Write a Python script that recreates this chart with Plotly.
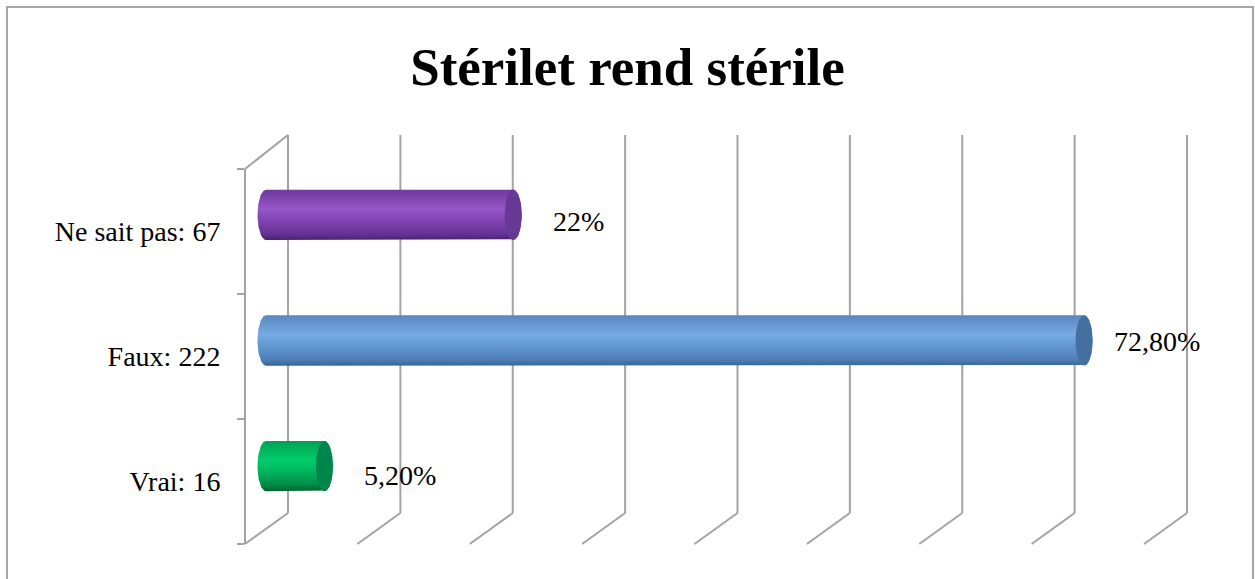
import numpy as np
import plotly.graph_objects as go

# ---------------- data ----------------
categories = ["Vrai", "Faux", "Ne sait pas"]
counts = [16, 222, 67]
shares = [0.052, 0.728, 0.22]
share_labels = ["5,20%", "72,80%", "22%"]
axis_max = 0.8
axis_step = 0.1
title_text = "Stérilet rend stérile"

# ---------------- layout geometry (pixels in a 1255x579 page) ----------------
W, H = 1255, 579
def fx(p):
    return p / W
def fy(p):
    return 1 - p / H

back_x = (288, 1187)
back_y = (135, 513)
mid_x = (266, 1165)
mid_y = (152, 529)
front_y = (169, 544)
front_x = 245
depth_dx, depth_dy_bottom, depth_dy_top = 43, 31, 34

grid_color = "#a3a3a3"
font_family = "Liberation Serif"

bar_half = 0.2  # half thickness in category units
cap_px = 8.5
mid_scale = axis_max / (mid_x[1] - mid_x[0])   # data units per pixel
cap_units = cap_px * mid_scale
pad_px = 14
pad_units = pad_px * mid_scale

body_scales = [
    [[0, "#005f30"], [0.12, "#008a46"], [0.45, "#00bd63"], [0.62, "#00cc6c"], [0.85, "#00b35c"], [1, "#00a152"]],
    [[0, "#3a6493"], [0.12, "#4f7fb8"], [0.45, "#689cd6"], [0.62, "#77aae2"], [0.85, "#6595cf"], [1, "#5886bf"]],
    [[0, "#4a2270"], [0.12, "#653292"], [0.45, "#8748b9"], [0.62, "#9557c6"], [0.85, "#7e43ae"], [1, "#6f3a9d"]],
]
cap_colors = ["#00864a", "#44709f", "#673894"]
label_xshift = [38, 28, 38]
label_yshift = [-9, -1, -7]

cat_labels = [f"{c}: {n}" for c, n in zip(categories, counts)]

fig = go.Figure()

# dummy trace so the back-wall subplot exists
fig.add_trace(go.Scatter(x=[0], y=[0], xaxis="x", yaxis="y", mode="markers",
                         marker=dict(opacity=0), hoverinfo="skip", showlegend=False))

t_half = np.linspace(-np.pi / 2, np.pi / 2, 41)
t_full = np.linspace(0, 2 * np.pi, 81)
for i, v in enumerate(shares):
    xs = ([0, v] + list(v + cap_units * np.cos(t_half)) + [v, 0]
          + list(-cap_units * np.cos(t_half[::-1])))
    ys = ([i - bar_half, i - bar_half] + list(i + bar_half * np.sin(t_half))
          + [i + bar_half, i + bar_half] + list(i + bar_half * np.sin(t_half[::-1])))
    fig.add_trace(go.Scatter(
        x=xs, y=ys, xaxis="x2", yaxis="y2", mode="lines", fill="toself",
        line=dict(width=0, color=cap_colors[i]),
        fillgradient=dict(type="vertical", colorscale=body_scales[i]),
        hoverinfo="skip", showlegend=False))
    fig.add_trace(go.Scatter(
        x=list(v + cap_units * np.cos(t_full)), y=list(i + bar_half * np.sin(t_full)),
        xaxis="x2", yaxis="y2", mode="lines", fill="toself",
        line=dict(width=0, color=cap_colors[i]), fillcolor=cap_colors[i],
        hoverinfo="skip", showlegend=False))
    fig.add_annotation(x=v, y=i, xref="x2", yref="y2", text=share_labels[i],
                       showarrow=False, xanchor="left", yanchor="middle",
                       xshift=label_xshift[i], yshift=label_yshift[i],
                       font=dict(family=font_family, size=28, color="black"))

# dummy trace for the front category axis
fig.add_trace(go.Scatter(x=[0, 0, 0], y=cat_labels, xaxis="x2", yaxis="y3", mode="markers",
                         marker=dict(opacity=0), hoverinfo="skip", showlegend=False))

# back-wall gridlines and floor diagonals (in the back axis' domain units)
bw = back_x[1] - back_x[0]
bh = back_y[1] - back_y[0]
grid_vals = np.arange(0, axis_max + 1e-9, axis_step)
shapes = []
for g in grid_vals:
    f = g / axis_max
    shapes.append(dict(type="line", xref="x domain", yref="y domain", layer="below",
                       x0=f, x1=f, y0=0, y1=1,
                       line=dict(color=grid_color, width=2)))
    shapes.append(dict(type="line", xref="x domain", yref="y domain", layer="below",
                       x0=f, x1=f - depth_dx / bw, y0=0, y1=-depth_dy_bottom / bh,
                       line=dict(color=grid_color, width=2)))
shapes.append(dict(type="line", xref="x domain", yref="y domain", layer="below",
                   x0=0, x1=-depth_dx / bw, y0=1, y1=1 - depth_dy_top / bh,
                   line=dict(color=grid_color, width=2)))
shapes.append(dict(type="rect", xref="paper", yref="paper",
                   x0=fx(7), x1=fx(1253), y0=-0.3, y1=fy(7),
                   line=dict(color="#a6a6a6", width=2), fillcolor="rgba(0,0,0,0)"))

fig.update_layout(
    width=W, height=H,
    margin=dict(l=0, r=0, t=0, b=0),
    paper_bgcolor="white", plot_bgcolor="rgba(0,0,0,0)",
    showlegend=False,
    title=dict(text=f"<b>{title_text}</b>", x=0.5, xanchor="center",
               y=fy(66), yanchor="middle",
               font=dict(family=font_family, size=53, color="black")),
    xaxis=dict(domain=[fx(back_x[0]), fx(back_x[1])], range=[0, axis_max],
               showgrid=False, showticklabels=False, ticks="", zeroline=False, showline=False,
               anchor="y", fixedrange=True),
    yaxis=dict(domain=[fy(back_y[1]), fy(back_y[0])], range=[0, 1],
               showgrid=False, showticklabels=False, zeroline=False, showline=False,
               ticks="", anchor="x", fixedrange=True),
    xaxis2=dict(domain=[fx(mid_x[0] - pad_px), fx(mid_x[1])], range=[-pad_units, axis_max],
                visible=False, anchor="y2", fixedrange=True),
    yaxis2=dict(domain=[fy(mid_y[1]), fy(mid_y[0])], range=[-0.5, 2.5],
                visible=False, anchor="x2", fixedrange=True),
    yaxis3=dict(domain=[fy(front_y[1]), fy(front_y[0])], type="category",
                categoryorder="array", categoryarray=cat_labels, range=[-0.5, 2.5],
                anchor="free", position=fx(front_x), side="left",
                showline=True, linecolor=grid_color, linewidth=2,
                ticks="outside", ticklen=7, tickwidth=2, tickcolor=grid_color,
                tickson="boundaries", showgrid=False, zeroline=False,
                ticklabelstandoff=18,
                tickfont=dict(family=font_family, size=28, color="black"),
                fixedrange=True),
    shapes=shapes,
)

fig.write_html("out.html", config={"displayModeBar": False},
               post_script="document.body.style.margin='0';")
